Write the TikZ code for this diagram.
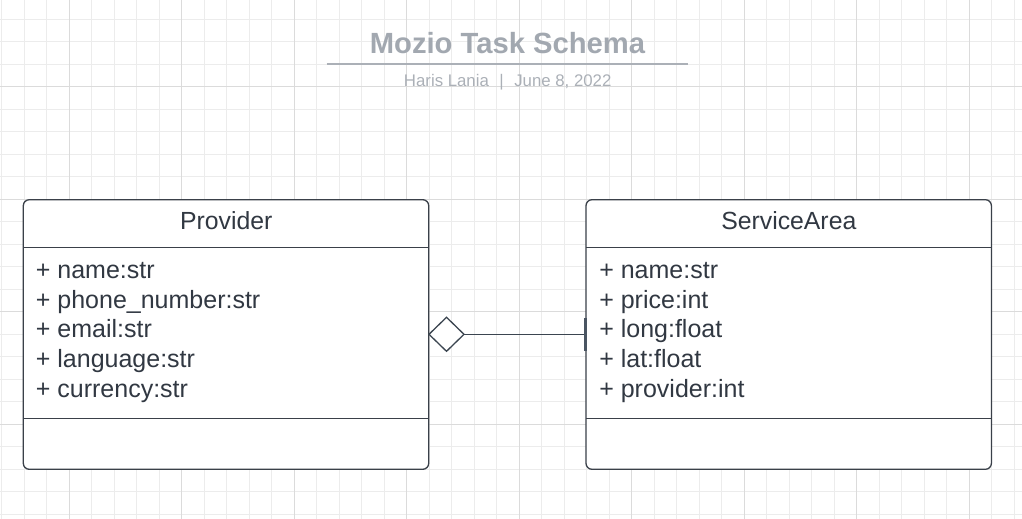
\documentclass[tikz,border=0pt]{standalone}
\usepackage{fontspec}
\setmainfont{Liberation Sans}
\usetikzlibrary{shapes.geometric}
\definecolor{gridminor}{HTML}{ECECEC}
\definecolor{gridmajor}{HTML}{DBDBDB}
\definecolor{boxline}{HTML}{3A4049}
\definecolor{txt}{HTML}{313842}
\definecolor{ttl}{HTML}{A2A8B0}
\definecolor{subt}{HTML}{ABB0B7}
\definecolor{conn}{HTML}{3B4550}
\definecolor{barc}{HTML}{4A5562}
\begin{document}
\begin{tikzpicture}[x=1pt,y=-1pt,
  gridmin/.style={draw=gridminor, line width=0.9pt},
  gridmaj/.style={draw=gridmajor, line width=0.9pt},
  classbox/.style={draw=boxline, fill=white, line width=1.3pt, rounded corners=6pt,
     minimum width=405.4pt, minimum height=269.6pt, inner sep=0pt, outer sep=0pt, anchor=north west},
  classdiv/.style={draw=boxline, line width=1.3pt},
  headtxt/.style={text=txt, inner sep=0pt, anchor=base, font=\fontsize{24.8}{29}\selectfont},
  attrtxt/.style={text=txt, inner sep=0pt, anchor=base west, font=\fontsize{25}{29}\selectfont},
  titletxt/.style={text=ttl, inner sep=0pt, anchor=base, font=\fontsize{29.2}{34}\selectfont\bfseries},
  subtxt/.style={text=subt, inner sep=0pt, anchor=base, font=\fontsize{16.8}{20}\selectfont},
  aggdiamond/.style={diamond, draw=conn, fill=white, line width=1.3pt, minimum width=35pt,
     minimum height=34pt, inner sep=0pt, outer sep=0pt},
  connline/.style={draw=conn, line width=1.3pt},
  onebar/.style={draw=barc, line width=2.6pt}
]
\fill[white] (0,0) rectangle (1022,519);
\useasboundingbox (0,0) rectangle (1022,519);
% grid
\foreach \i in {0,...,45} \draw[gridmin] ({1.5+22.5*\i},0) -- ({1.5+22.5*\i},519);
\foreach \j in {0,...,22} \draw[gridmin] (0,{19+22.5*\j}) -- (1022,{19+22.5*\j});
\foreach \i in {3,8,...,43} \draw[gridmaj] ({1.5+22.5*\i},0) -- ({1.5+22.5*\i},519);
\foreach \j in {3,8,13,18} \draw[gridmaj] (0,{19+22.5*\j}) -- (1022,{19+22.5*\j});
% title
\node[titletxt] (title) at (507.5,53.3) {Mozio Task Schema};
\coordinate (ulA) at (326.7,63.7);
\coordinate (ulB) at (688.3,63.7);
\draw[draw=subt, line width=2pt] (ulA) -- (ulB);
\node[subtxt] (subtitle) at (507.7,86.7) {Haris Lania\hspace{10.5pt}|\hspace{10.5pt}June 8, 2022};
% classes
\node[classbox] (prov) at (23.3,199.7) {};
\node[classbox] (sa) at (586,199.7) {};
\draw[classdiv] ([yshift=-47.6pt]prov.north west) -- ([yshift=-47.6pt]prov.north east);
\draw[classdiv] ([yshift=-218.6pt]prov.north west) -- ([yshift=-218.6pt]prov.north east);
\draw[classdiv] ([yshift=-47.6pt]sa.north west) -- ([yshift=-47.6pt]sa.north east);
\draw[classdiv] ([yshift=-218.6pt]sa.north west) -- ([yshift=-218.6pt]sa.north east);
\node[headtxt] (provh) at (226.3,229.3) {Provider};
\node[headtxt] (sah) at (788.8,229.3) {ServiceArea};
\node[attrtxt] (p1) at (35.7,278.3) {+ name:str};
\node[attrtxt] (p2) at (35.7,308.0) {+ phone\_number:str};
\node[attrtxt] (p3) at (35.7,337.8) {+ email:str};
\node[attrtxt] (p4) at (35.7,367.6) {+ language:str};
\node[attrtxt] (p5) at (35.7,397.4) {+ currency:str};
\node[attrtxt] (s1) at (599.1,278.3) {+ name:str};
\node[attrtxt] (s2) at (599.1,308.0) {+ price:int};
\node[attrtxt] (s3) at (599.1,337.8) {+ long:float};
\node[attrtxt] (s4) at (599.1,367.6) {+ lat:float};
\node[attrtxt] (s5) at (599.1,397.4) {+ provider:int};
% connector
\node[aggdiamond] (agg) at (446.5,334.3) {};
\coordinate (barpt) at (agg.east -| sa.west);
\draw[connline] (agg.east) -- (barpt);
\draw[onebar] ([xshift=-0.8pt,yshift=16.5pt]barpt) -- ([xshift=-0.8pt,yshift=-17pt]barpt);
\end{tikzpicture}
\end{document}
